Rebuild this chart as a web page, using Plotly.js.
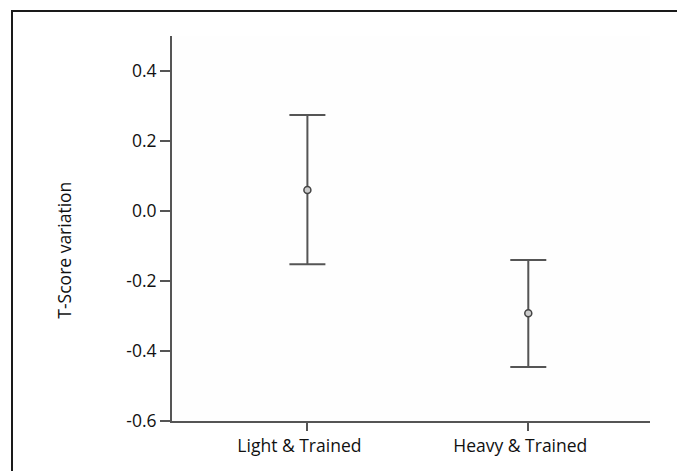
<!DOCTYPE html>
<html>
<head>
<meta charset="utf-8">
<script src="https://cdn.plot.ly/plotly-3.0.1.min.js"></script>
<style>
  html, body { margin: 0; padding: 0; background: #fff; }
  #wrap { position: relative; width: 677px; height: 471px; overflow: hidden; }
  #chart { width: 677px; height: 471px; }
  #frame { position: absolute; left: 11px; top: 10px; width: 700px; height: 500px;
           border: 2px solid #1a1a1a; pointer-events: none; box-sizing: border-box; }
</style>
</head>
<body>
<div id="wrap">
  <div id="chart"></div>
  <div id="frame"></div>
</div>
<script>
const categories = ['Light & Trained', 'Heavy & Trained'];
const means = [0.06, -0.292];
const upper = [0.274, -0.14];
const lower = [-0.152, -0.446];
const tickValues = [-0.6, -0.4, -0.2, 0.0, 0.2, 0.4];
const tickLabels = ['-0.6', '-0.4', '-0.2', '0.0', '0.2', '0.4'];
const yTitle = 'T-Score variation';

const errPlus = means.map((m, i) => upper[i] - m);
const errMinus = means.map((m, i) => m - lower[i]);

const font = 'Open Sans, sans-serif';
const fs = 17.5;

const trace = {
  type: 'scatter',
  mode: 'markers',
  x: [0, 1],
  y: means,
  marker: { symbol: 'circle', size: 7, color: '#cccccc', line: { color: '#444', width: 1.5 } },
  error_y: {
    type: 'data', symmetric: false, array: errPlus, arrayminus: errMinus,
    color: '#555', thickness: 2, width: 18
  },
  hoverinfo: 'skip'
};

const layout = {
  width: 677, height: 471,
  margin: { l: 172, r: 27, t: 36, b: 50 },
  paper_bgcolor: '#ffffff',
  plot_bgcolor: '#fefefe',
  showlegend: false,
  font: { family: font, size: fs, color: '#111' },
  xaxis: {
    range: [-0.613, 1.551],
    tickvals: [0, 1],
    ticktext: categories,
    showgrid: false, zeroline: false,
    showline: true, linecolor: '#555', linewidth: 2,
    ticks: 'outside', ticklen: 8, tickwidth: 2, tickcolor: '#555',
    ticklabelshift: -8,
    tickfont: { family: font, size: fs, color: '#111' },
    fixedrange: true
  },
  yaxis: {
    range: [-0.6, 0.5],
    tickvals: tickValues,
    ticktext: tickLabels,
    showgrid: false, zeroline: false,
    showline: true, linecolor: '#555', linewidth: 2,
    ticks: 'outside', ticklen: 10, tickwidth: 2, tickcolor: '#555',
    tickfont: { family: font, size: fs, color: '#111' },
    fixedrange: true
  },
  annotations: [{
    text: yTitle, xref: 'paper', yref: 'paper',
    x: -0.226, y: 0.445, xanchor: 'center', yanchor: 'middle',
    textangle: -90, showarrow: false,
    font: { family: font, size: fs, color: '#111' }
  }]
};

Plotly.newPlot('chart', [trace], layout, { displayModeBar: false, staticPlot: true });
</script>
</body>
</html>
